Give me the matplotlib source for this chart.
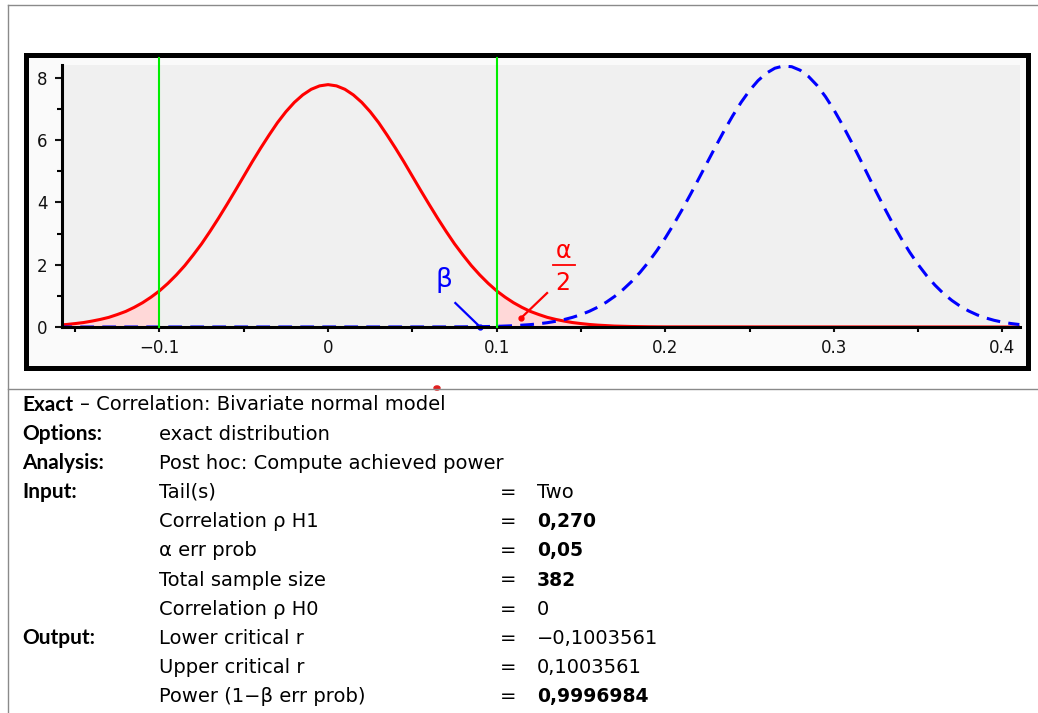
import matplotlib
matplotlib.use("Agg")
import matplotlib.pyplot as plt
from matplotlib.lines import Line2D
from matplotlib.patches import Rectangle, Circle

# values (G*Power, exact correlation test)
crit_r = 0.1003561

# H0 density of r (red, solid)
h0_x = [-0.16, -0.155, -0.15, -0.145, -0.14, -0.135, -0.13, -0.125, -0.12, -0.115,
        -0.11, -0.105, -0.10, -0.095, -0.09, -0.085, -0.08, -0.075, -0.07, -0.065,
        -0.06, -0.055, -0.05, -0.045, -0.04, -0.035, -0.03, -0.025, -0.02, -0.015,
        -0.01, -0.005, 0.0, 0.005, 0.01, 0.015, 0.02, 0.025, 0.03, 0.035,
        0.04, 0.045, 0.05, 0.055, 0.06, 0.065, 0.07, 0.075, 0.08, 0.085,
        0.09, 0.095, 0.10, 0.105, 0.11, 0.115, 0.12, 0.125, 0.13, 0.135,
        0.14, 0.145, 0.15, 0.155, 0.16, 0.17, 0.18, 0.19, 0.20, 0.41]
h0_y = [0.06, 0.081, 0.11, 0.143, 0.19, 0.244, 0.31, 0.40, 0.50, 0.63,
        0.78, 0.958, 1.16, 1.40, 1.67, 1.97, 2.31, 2.67, 3.07, 3.49,
        3.93, 4.38, 4.84, 5.30, 5.74, 6.16, 6.56, 6.91, 7.21, 7.45,
        7.63, 7.74, 7.78, 7.74, 7.63, 7.45, 7.21, 6.91, 6.56, 6.16,
        5.74, 5.30, 4.84, 4.38, 3.93, 3.49, 3.07, 2.67, 2.31, 1.97,
        1.67, 1.40, 1.16, 0.958, 0.78, 0.63, 0.50, 0.40, 0.31, 0.244,
        0.19, 0.143, 0.11, 0.081, 0.06, 0.03, 0.016, 0.008, 0.004, 0.0]

# H1 density of r (blue, dashed)
h1_x = [-0.16, 0.07, 0.08, 0.09, 0.10, 0.11, 0.12, 0.125, 0.13, 0.135,
        0.14, 0.145, 0.15, 0.155, 0.16, 0.165, 0.17, 0.175, 0.18, 0.185,
        0.19, 0.195, 0.20, 0.205, 0.21, 0.215, 0.22, 0.225, 0.23, 0.235,
        0.24, 0.245, 0.25, 0.255, 0.26, 0.265, 0.27, 0.275, 0.28, 0.285,
        0.29, 0.295, 0.30, 0.305, 0.31, 0.315, 0.32, 0.325, 0.33, 0.335,
        0.34, 0.345, 0.35, 0.355, 0.36, 0.365, 0.37, 0.375, 0.38, 0.385,
        0.39, 0.395, 0.40, 0.405, 0.41]
h1_y = [0.0, 0.002, 0.005, 0.011, 0.021, 0.041, 0.077, 0.104, 0.138, 0.183,
        0.239, 0.310, 0.398, 0.506, 0.637, 0.795, 0.983, 1.203, 1.458, 1.751,
        2.081, 2.450, 2.856, 3.297, 3.767, 4.262, 4.773, 5.292, 5.807, 6.308,
        6.780, 7.213, 7.592, 7.908, 8.148, 8.307, 8.377, 8.355, 8.242, 8.040,
        7.756, 7.396, 6.973, 6.498, 5.985, 5.448, 4.900, 4.353, 3.822, 3.313,
        2.838, 2.398, 2.002, 1.649, 1.342, 1.075, 0.852, 0.665, 0.513, 0.389,
        0.292, 0.215, 0.156, 0.112, 0.079]

x_ticks = [-0.1, 0, 0.1, 0.2, 0.3, 0.4]
x_tick_labels = ["\u22120.1", "0", "0.1", "0.2", "0.3", "0.4"]
x_minor = [-0.15, -0.05, 0.05, 0.15, 0.25, 0.35]
y_ticks = [0, 2, 4, 6, 8]
y_minor = [1, 3, 5, 7]

# protocol text below the chart
head_bold = "Exact"
head_rest = "\u2013 Correlation: Bivariate normal model"
sections = ["Options:", "Analysis:", "Input:", "", "", "", "", "Output:", "", ""]
names = ["exact distribution", "Post hoc: Compute achieved power", "Tail(s)",
         "Correlation \u03c1 H1", "\u03b1 err prob", "Total sample size",
         "Correlation \u03c1 H0", "Lower critical r", "Upper critical r",
         "Power (1\u2212\u03b2 err prob)"]
values = ["", "", "Two", "0,270", "0,05", "382", "0", "\u22120,1003561",
          "0,1003561", "0,9996984"]
value_bold = [False, False, False, True, True, True, False, False, False, True]

W, H = 1038, 713
fig = plt.figure(figsize=(W / 100, H / 100), dpi=100)

def fx(x):
    return x / W

def fy(y):
    return 1 - y / H

# window lines
grey = "#8a8a8a"
fig.add_artist(Line2D([fx(8), 1], [fy(5), fy(5)], color=grey, lw=1))
fig.add_artist(Line2D([fx(8), fx(8)], [fy(5), 0], color=grey, lw=1))
fig.add_artist(Line2D([fx(8), 1], [fy(389), fy(389)], color=grey, lw=1))
fig.add_artist(Circle((fx(437), fy(388)), 3 / W, color="#e02020", transform=fig.transFigure))

# thick black frame round the graph
fig.add_artist(Rectangle((fx(25.5), fy(367.5)), (1027.5 - 25.5) / W, (367.5 - 54.5) / H,
                         facecolor="#fafafa", edgecolor="black", lw=3.6,
                         transform=fig.transFigure, zorder=0))

ax = fig.add_axes([fx(62), fy(327), (1020 - 62) / W, (327 - 65) / H])
ax.set_facecolor("#f0f0f0")
ax.set_xlim(-0.1578, 0.4104)
ax.set_ylim(0, 8.41)

# shaded tails
ax.fill_between(h0_x, h0_y, where=[x <= -0.1 for x in h0_x], color="#ffd8d8", lw=0)
ax.fill_between(h0_x, h0_y, where=[x >= 0.1 for x in h0_x], color="#ffd8d8", lw=0)
ax.fill_between(h1_x, h1_y, where=[x <= 0.1 for x in h1_x], color="#d8d8ff", lw=0)

ax.plot(h0_x, h0_y, color="#ff0000", lw=2.2, solid_joinstyle="round")
ax.plot(h1_x, h1_y, color="#0000ff", lw=2.2, dashes=(4.5, 2.7))

for c in (-crit_r, crit_r):
    ax.plot([c, c], [0, 8.63], color="#00ee00", lw=1.5, clip_on=False, zorder=3)

# beta / alpha labels
ax.text(0.0688, 1.51, "\u03b2", color="#0000ff", fontsize=19, ha="center", va="center")
ax.plot([0.0755, 0.0902], [0.77, 0.0], color="#0000ff", lw=1.6)
ax.plot([0.0902], [0.0], "o", color="#0000ff", ms=3.5, clip_on=False)
ax.text(0.1394, 2.45, "\u03b1", color="#ff0000", fontsize=17, ha="center", va="center")
ax.plot([0.1335, 0.1465], [1.99, 1.99], color="#ff0000", lw=1.3)
ax.text(0.1394, 1.42, "2", color="#ff0000", fontsize=17, ha="center", va="center")
ax.plot([0.1299, 0.1145], [1.09, 0.29], color="#ff0000", lw=1.6)
ax.plot([0.1145], [0.29], "o", color="#ff0000", ms=3.5)

for s in ("top", "right"):
    ax.spines[s].set_visible(False)
for s in ("left", "bottom"):
    ax.spines[s].set_linewidth(2.2)
ax.set_xticks(x_ticks)
ax.set_xticklabels(x_tick_labels)
ax.set_xticks(x_minor, minor=True)
ax.set_yticks(y_ticks)
ax.set_yticks(y_minor, minor=True)
ax.tick_params(which="major", direction="out", width=1.5, labelsize=12, colors="#111111")
ax.tick_params(axis="x", which="major", length=3.6, pad=5)
ax.tick_params(axis="y", which="major", length=5, pad=5.5)
ax.tick_params(which="minor", direction="out", width=1.5, length=3.6)

# protocol text
fs = 14
label_font = ["Lato", "DejaVu Sans"]
fig.text(fx(22), fy(405), head_bold, fontsize=15, fontweight="bold", family=label_font, va="center")
fig.text(fx(80), fy(405), head_rest, fontsize=fs, va="center")
for i in range(len(names)):
    yy = fy(434 + i * 29.2)
    if sections[i]:
        fig.text(fx(22), yy, sections[i], fontsize=15, fontweight="bold", family=label_font, va="center")
    fig.text(fx(159), yy, names[i], fontsize=fs, va="center")
    if values[i]:
        fig.text(fx(508), yy, "=", fontsize=fs, ha="center", va="center")
        fig.text(fx(537), yy, values[i], va="center",
                 fontsize=13.5 if value_bold[i] else fs,
                 fontweight="bold" if value_bold[i] else "normal")

fig.savefig("out.png", dpi=100)
